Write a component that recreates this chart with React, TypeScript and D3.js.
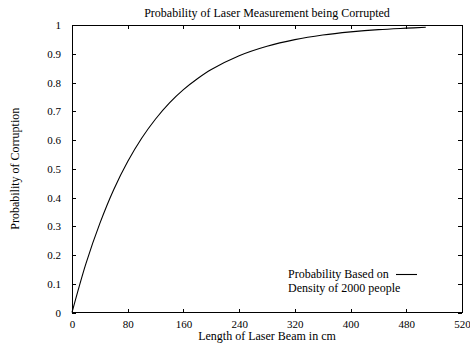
import * as d3 from 'd3';
import { useEffect, useRef } from 'react';

// values
const beamLength = [0, 20, 40, 60, 80, 100, 120, 140, 160, 180, 200, 240, 280, 320, 360, 400, 440, 480, 508];
const corruption = [0, 0.17, 0.31, 0.428, 0.525, 0.606, 0.673, 0.729, 0.775, 0.813, 0.845, 0.893, 0.926, 0.949, 0.965, 0.976, 0.984, 0.989, 0.992];

const xTickValues = [0, 80, 160, 240, 320, 400, 480, 560];
const xTickLabels = ['0', '80', '160', '240', '320', '400', '480', '520'];
const yTickValues = [0, 0.1, 0.2, 0.3, 0.4, 0.5, 0.6, 0.7, 0.8, 0.9, 1];

const legendLines = ['Probability Based on', 'Density of 2000 people'];

const App = () => {
  const svgRef = useRef(null);

  useEffect(() => {
    const width = 470;
    const height = 345;
    const marginTop = 25;
    const marginRight = 8;
    const marginBottom = 32.5;
    const marginLeft = 72;
    const font = 'Liberation Serif';
    const tickSize = 11;
    const labelSize = 12;

    const svg = d3.select(svgRef.current);
    svg.selectAll('*').remove();
    svg.attr('width', width).attr('height', height).attr('viewBox', [0, 0, width, height]);

    const x = d3.scaleLinear([0, 560], [marginLeft, width - marginRight]);
    const y = d3.scaleLinear([0, 1], [height - marginBottom, marginTop]);

    const styleText = (g) => {
      g.attr('font-family', null).attr('font-size', null);
      g.selectAll('.domain').remove();
      g.selectAll('.tick line').attr('stroke', '#000').attr('shape-rendering', 'crispEdges');
      g.selectAll('.tick text')
        .style('font-family', font)
        .style('font-size', tickSize + 'px')
        .attr('fill', '#000');
    };

    // bottom axis with labels
    svg.append('g')
      .attr('transform', `translate(0,${y(0)})`)
      .call(
        d3.axisBottom(x)
          .tickValues(xTickValues)
          .tickFormat((d, i) => xTickLabels[i])
          .tickSize(-4)
          .tickPadding(8)
      )
      .call(styleText);

    // top mirror ticks
    svg.append('g')
      .attr('transform', `translate(0,${y(1)})`)
      .call(d3.axisTop(x).tickValues(xTickValues).tickFormat(() => '').tickSize(-4))
      .call(styleText);

    // left axis
    svg.append('g')
      .attr('transform', `translate(${x(0)},0)`)
      .call(
        d3.axisLeft(y)
          .tickValues(yTickValues)
          .tickFormat(d3.format('~g'))
          .tickSize(-4)
          .tickPadding(11)
      )
      .call(styleText);

    // right mirror ticks
    svg.append('g')
      .attr('transform', `translate(${x(560)},0)`)
      .call(d3.axisRight(y).tickValues(yTickValues).tickFormat(() => '').tickSize(-4))
      .call(styleText);

    // frame
    svg.append('rect')
      .attr('x', x(0))
      .attr('y', y(1))
      .attr('width', x(560) - x(0))
      .attr('height', y(0) - y(1))
      .attr('fill', 'none')
      .attr('stroke', '#000')
      .attr('stroke-width', 1)
      .attr('shape-rendering', 'crispEdges');

    // curve
    const line = d3.line()
      .curve(d3.curveCatmullRom.alpha(0.5))
      .x((i) => x(beamLength[i]))
      .y((i) => y(corruption[i]));

    svg.append('path')
      .attr('fill', 'none')
      .attr('stroke', '#000')
      .attr('stroke-width', 1.1)
      .attr('d', line(d3.range(beamLength.length)));

    const addText = (sel) => sel.style('font-family', font).style('font-size', labelSize + 'px');

    // titles
    const cx = (x(0) + x(560)) / 2;
    svg.append('text')
      .attr('x', cx)
      .attr('y', 17)
      .attr('text-anchor', 'middle')
      .call(addText)
      .text('Probability of Laser Measurement being Corrupted');

    svg.append('text')
      .attr('x', cx)
      .attr('y', 340)
      .attr('text-anchor', 'middle')
      .call(addText)
      .text('Length of Laser Beam in cm');

    svg.append('text')
      .attr('transform', `translate(19,${(y(0) + y(1)) / 2}) rotate(-90)`)
      .attr('text-anchor', 'middle')
      .call(addText)
      .text('Probability of Corruption');

    // legend
    const legend = svg.append('g').attr('transform', 'translate(288,278)');
    legend.selectAll('text')
      .data(legendLines)
      .join('text')
      .attr('x', 0)
      .attr('y', (d, i) => i * 14)
      .call(addText)
      .text((d) => d);
    legend.append('line')
      .attr('x1', 108)
      .attr('x2', 129)
      .attr('y1', -3.5)
      .attr('y2', -3.5)
      .attr('stroke', '#000')
      .attr('stroke-width', 1.1);
  }, []);

  return (
    <svg
      ref={svgRef}
      style={{ position: 'absolute', left: 0, top: 0, background: '#fff', fontFamily: 'Liberation Serif' }}
    />
  );
};

export default App;
